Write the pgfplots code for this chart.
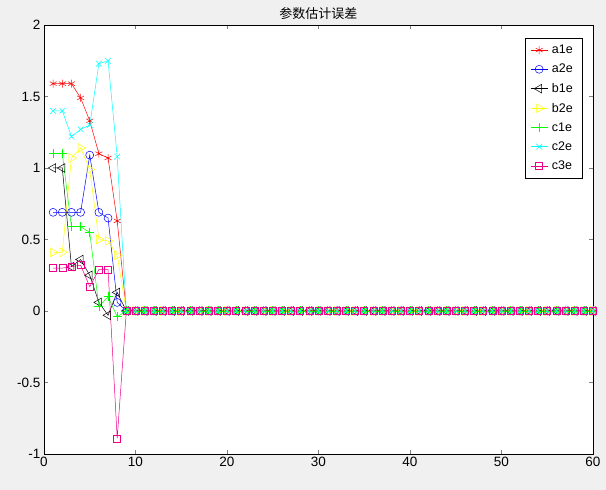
\documentclass[border=0pt]{standalone}
\usepackage{pgfplots}
\pgfplotsset{compat=1.18}
\usepackage{pgfplotstable}
\usepackage{fontspec}
\setmainfont{Liberation Sans}
\newfontfamily\cjk{Noto Sans CJK SC}
\usetikzlibrary{backgrounds}
\pgfplotstableread{
x a1 a2 b1 b2 c1 c2 c3
1 1.59 0.69 1.00 0.41 1.10 1.40 0.30
2 1.59 0.69 1.00 0.41 1.10 1.40 0.30
3 1.59 0.69 0.31 1.07 0.59 1.22 0.31
4 1.49 0.69 0.36 1.14 0.59 1.27 0.32
5 1.33 1.09 0.25 0.99 0.55 1.30 0.17
6 1.10 0.69 0.06 0.50 0.03 1.73 0.29
7 1.07 0.65 -0.03 0.49 0.10 1.75 0.29
8 0.63 0.06 0.13 0.39 -0.04 1.08 -0.89
9 0 0 0 0 0 0 0
10 0 0 0 0 0 0 0
11 0 0 0 0 0 0 0
12 0 0 0 0 0 0 0
13 0 0 0 0 0 0 0
14 0 0 0 0 0 0 0
15 0 0 0 0 0 0 0
16 0 0 0 0 0 0 0
17 0 0 0 0 0 0 0
18 0 0 0 0 0 0 0
19 0 0 0 0 0 0 0
20 0 0 0 0 0 0 0
21 0 0 0 0 0 0 0
22 0 0 0 0 0 0 0
23 0 0 0 0 0 0 0
24 0 0 0 0 0 0 0
25 0 0 0 0 0 0 0
26 0 0 0 0 0 0 0
27 0 0 0 0 0 0 0
28 0 0 0 0 0 0 0
29 0 0 0 0 0 0 0
30 0 0 0 0 0 0 0
31 0 0 0 0 0 0 0
32 0 0 0 0 0 0 0
33 0 0 0 0 0 0 0
34 0 0 0 0 0 0 0
35 0 0 0 0 0 0 0
36 0 0 0 0 0 0 0
37 0 0 0 0 0 0 0
38 0 0 0 0 0 0 0
39 0 0 0 0 0 0 0
40 0 0 0 0 0 0 0
41 0 0 0 0 0 0 0
42 0 0 0 0 0 0 0
43 0 0 0 0 0 0 0
44 0 0 0 0 0 0 0
45 0 0 0 0 0 0 0
46 0 0 0 0 0 0 0
47 0 0 0 0 0 0 0
48 0 0 0 0 0 0 0
49 0 0 0 0 0 0 0
50 0 0 0 0 0 0 0
51 0 0 0 0 0 0 0
52 0 0 0 0 0 0 0
53 0 0 0 0 0 0 0
54 0 0 0 0 0 0 0
55 0 0 0 0 0 0 0
56 0 0 0 0 0 0 0
57 0 0 0 0 0 0 0
58 0 0 0 0 0 0 0
59 0 0 0 0 0 0 0
60 0 0 0 0 0 0 0
}\data
\definecolor{mgray}{RGB}{240,240,240}
\definecolor{mcyan}{RGB}{0,255,255}
\definecolor{myellow}{RGB}{255,255,0}
\definecolor{mgreen}{RGB}{0,255,0}
\begin{document}
\begin{tikzpicture}[x=1pt,y=1pt]
\begin{axis}[at={(0,0)},anchor=south west,scale only axis,width=549pt,height=429pt,
 xmin=0,xmax=60,ymin=-1,ymax=2,
 xtick={0,10,...,60}, ytick={-1,-0.5,0,0.5,1,1.5,2},
 tick align=inside,
 axis background/.style={fill=white},
 /pgf/number format/assume math mode=true,
 tick label style={font=\fontsize{13.5}{15}\selectfont},
 title={\cjk\fontsize{13}{15}\selectfont 参数估计误差},
 title style={yshift=-4pt},
 every axis plot/.append style={line width=0.5pt, mark size=4pt},
 legend style={at={(0.98,0.97)},anchor=north east,font=\fontsize{12.5}{14}\selectfont,row sep=5pt,inner sep=5pt},
 legend image post style={},
 legend cell align=left,
 every axis legend/.append style={nodes={inner xsep=4pt}},
]
\addplot[red,mark=asterisk,mark options={solid}] table[x=x,y=a1]{\data};
\addplot[blue,mark=o,mark options={solid}] table[x=x,y=a2]{\data};
\addplot[black,mark=triangle,mark size=5pt,mark options={solid,rotate=90}] table[x=x,y=b1]{\data};
\addplot[myellow,mark=triangle,mark size=5pt,mark options={solid,rotate=-90}] table[x=x,y=b2]{\data};
\addplot[mgreen,mark=+,mark size=4.5pt,mark options={solid}] table[x=x,y=c1]{\data};
\addplot[mcyan,mark=x,mark options={solid}] table[x=x,y=c2]{\data};
\addplot[magenta,mark=square,mark size=3.5pt,mark options={solid}] table[x=x,y=c3]{\data};
\legend{a1e,a2e,b1e,b2e,c1e,c2e,c3e}
\end{axis}
\path[use as bounding box] (-44pt,-36pt) rectangle (562pt,454pt);
\begin{scope}[on background layer]
\fill[mgray] (-44pt,-36pt) rectangle (562pt,454pt);
\end{scope}
\end{tikzpicture}
\end{document}
